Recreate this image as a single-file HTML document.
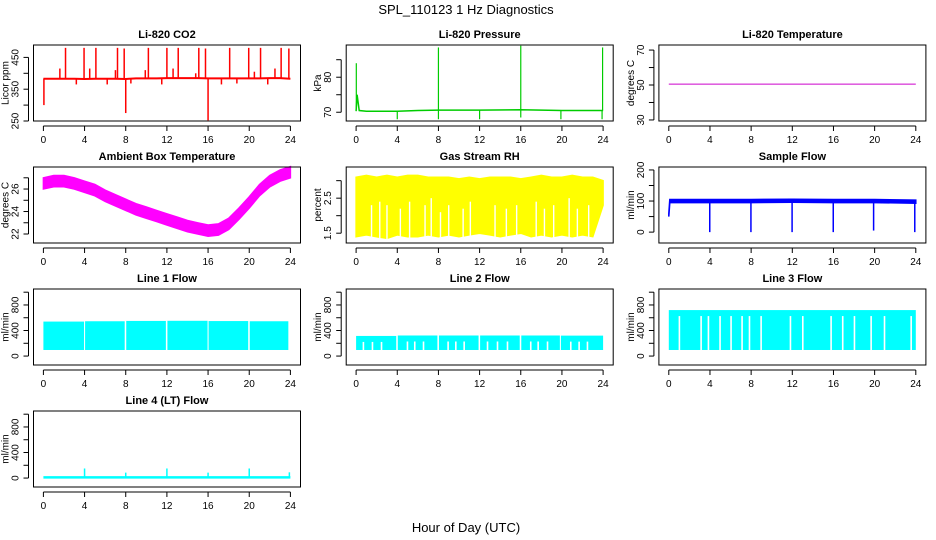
<!DOCTYPE html>
<html><head><meta charset="utf-8"><style>
html,body{margin:0;padding:0;background:#fff;}
svg{display:block;font-family:"Liberation Sans",Arial,sans-serif;}
</style></head><body>
<svg id="chart" width="936" height="540" viewBox="0 0 936 540" xmlns="http://www.w3.org/2000/svg">
<rect x="0" y="0" width="936" height="540" fill="#fff"/>
<text x="466" y="14" text-anchor="middle" font-size="13">SPL_110123  1 Hz Diagnostics</text>
<text x="466" y="532" text-anchor="middle" font-size="13">Hour of Day (UTC)</text>
</svg>
<script>
// ---------- data ----------
const xTicks = [0,4,8,12,16,20,24];
// CO2
const co2Hours = [0,0.05,1,2,3,4,5,6,7,8,9,10,11,12,13,14,15,16,17,18,19,20,21,22,23,24];
const co2Base  = [383,383,383,383,383,382,383,383,383,382,384,384,384,385,385,385,385,384,384,384,384,384,384,385,385,383];
const co2SpikeHours = [2.15,3.95,5.1,7.2,7.85,10.2,12.0,13.1,15.1,15.75,18.1,19.95,21.1,23.1,23.85,1.6,4.5,7.0,9.9,12.6,14.8,20.5,22.5,0.05,8.0,16.0,3.2,6.2,8.5,11.5,17.3,18.8,21.8];
const co2SpikeValues= [480,480,480,480,478,480,480,480,480,478,480,480,480,480,478,415,415,410,410,415,400,405,415,300,275,252,365,365,368,365,365,368,365];
// Pressure
const presHours = [0,0.1,0.3,1,4,6,8,12,16,20,24];
const presBase  = [70.3,75,70.5,70.3,70.3,70.5,70.6,70.6,70.7,70.5,70.5];
const presSpikeHours = [0.02,8.0,16.0,23.95,4.0,8.0,12.0,16.0,19.9,23.9];
const presSpikeValues= [84,88.5,89,88.5,68,68,68,68.5,68,68];
// Li-820 temperature
const tempHours = [0,24];
const tempValues = [50.5,50.5];
// Ambient box temperature (center of band)
const ambHours = [0,1,2,3,4,5,6,7,8,9,10,11,12,13,14,15,16,17,18,19,20,21,22,23,24];
const ambValues = [26.5,26.7,26.7,26.5,26.2,25.9,25.4,25.0,24.6,24.2,23.9,23.6,23.3,23.0,22.7,22.5,22.3,22.4,22.9,23.8,24.8,25.9,26.7,27.2,27.5];
const ambSpread = 0.5;
// Gas stream RH envelope
const rhHours = [0,1,2,3,4,5,6,7,8,9,10,11,12,13,14,15,16,17,18,19,20,21,22,23,24];
const rhHigh = [3.1,3.15,3.1,3.15,3.1,3.15,3.15,3.1,3.1,3.1,3.05,3.1,3.05,3.1,3.1,3.1,3.05,3.1,3.15,3.1,3.1,3.15,3.1,3.1,3.0];
const rhLow  = [1.4,1.45,1.4,1.35,1.45,1.4,1.4,1.45,1.4,1.45,1.4,1.45,1.5,1.45,1.4,1.45,1.5,1.4,1.45,1.4,1.45,1.4,1.45,1.4,2.3];
const rhGapHours = [1.5,2.3,3.0,4.3,5.2,6.7,7.3,8.2,9.0,10.4,11.1,13.5,14.6,15.6,17.5,18.3,19.2,20.7,21.5,22.6];
const rhGapTops  = [2.3,2.4,2.3,2.2,2.4,2.3,2.5,2.1,2.3,2.2,2.4,2.3,2.2,2.3,2.4,2.2,2.3,2.5,2.2,2.3];
// Sample flow
const sfHours = [0,0.1,1,4,8,12,16,20,24];
const sfValues = [55,100,100,100,100,101,100,100,98];
const sfSpread = 5;
const sfDropHours = [3.98,7.98,11.98,15.98,19.9,23.9];
const sfDropValues = [0,0,0,0,5,0];
// Line flows
const l1Block = [[0,3.95,540],[4.05,7.9,545],[8.05,11.9,550],[12.05,15.95,552],[16.05,19.9,548],[20.05,23.8,545]];
const l1Low = 95;
const l1Gaps = [];
const l2Block = [[0,3.9,315],[4.05,7.9,322],[8.05,11.9,322],[12.05,15.9,322],[16.05,19.8,322],[19.9,24,320]];
const l2Low = 95;
const l2Gaps = [0.71,1.59,2.47,4.99,5.7,6.55,8.94,9.69,10.5,12.77,13.74,14.71,16.97,17.69,18.6,20.86,21.67,22.48];
const l3Block = [[0,24,720]];
const l3Low = 95;
const l3Gaps = [1.03,3.14,3.85,4.98,6.05,7.12,7.84,8.97,11.82,13.02,15.77,16.9,18.04,19.66,20.96,23.55];
const l4Hours = [0,24];
const l4Values = [10,10];
const l4SpikeHours = [4,8,12,16,20,23.9];
const l4SpikeValues = [150,85,150,85,150,90];
// ---------- layout ----------
const NS = "http://www.w3.org/2000/svg";
const svg = document.getElementById('chart');
function el(tag, attrs, parent){
  const e = document.createElementNS(NS, tag);
  for (const k in attrs) e.setAttribute(k, attrs[k]);
  (parent||svg).appendChild(e);
  return e;
}
function panel(col,row,opt){
  const L = 33.5 + 312.7*col, T = 45 + 122*row, W = 267, H = 76;
  const x0 = L + 9.9, k = 247/24;
  const xs = h => x0 + h*k;
  const ys = v => T+H - (v-opt.ymin)/(opt.ymax-opt.ymin)*H;
  const g = el('g',{});
  
  
  const t = el('text',{x:L+W/2,y:T-7,'text-anchor':'middle','font-size':11,'font-weight':'bold'},g);
  t.textContent = opt.title;
  
  
  const plot = el('g',{},g);
  
  
  opt.draw(plot, xs, ys);
  const box = el('rect',{x:L,y:T,width:W,height:H,fill:'none',stroke:'#000','stroke-width':1},g);
  
  
  const xa = el('g',{},g);
  
  
  el('line',{x1:xs(0),x2:xs(24),y1:T+H+5,y2:T+H+5,stroke:'#000'},xa);
  xTicks.forEach(v=>{
    el('line',{x1:xs(v),x2:xs(v),y1:T+H+5,y2:T+H+10,stroke:'#000'},xa);
    const tl = el('text',{x:xs(v),y:T+H+22,'text-anchor':'middle','font-size':10},xa);
    tl.textContent = v;
    
    
  });
  const ya = el('g',{},g);
  
  
  const yt = opt.yTicks;
  el('line',{x1:L-5,x2:L-5,y1:ys(yt[0]),y2:ys(yt[yt.length-1]),stroke:'#000'},ya);
  yt.forEach((v,i)=>{
    el('line',{x1:L-10,x2:L-5,y1:ys(v),y2:ys(v),stroke:'#000'},ya);
    if (opt.yLabels[i] !== '') {
      const tl = el('text',{x:0,y:0,'text-anchor':'middle','font-size':10,transform:`translate(${L-15},${ys(v)}) rotate(-90)`},ya);
      tl.textContent = opt.yLabels[i];
      
      
    }
  });
  const yl = el('text',{x:0,y:0,'text-anchor':'middle','font-size':10,transform:`translate(${L-25},${T+H/2}) rotate(-90)`},g);
  yl.textContent = opt.ylab;
  
  
}
function pline(p, xsArr, ysArr, xs, ys, color, w){
  const pts = xsArr.map((h,i)=>xs(h).toFixed(1)+','+ys(ysArr[i]).toFixed(1)).join(' ');
  const e = el('polyline',{points:pts,fill:'none',stroke:color,'stroke-width':w},p);
  
  
}
function spikes(p, hs, vs, baseFn, xs, ys, color, w){
  hs.forEach((h,i)=>{
    const e = el('line',{x1:xs(h),x2:xs(h),y1:ys(baseFn(h)),y2:ys(vs[i]),stroke:color,'stroke-width':w},p);
    
    
  });
}
function interp(hs, vs){
  return h=>{ for(let i=1;i<hs.length;i++){ if(h<=hs[i]){const t=(h-hs[i-1])/(hs[i]-hs[i-1]||1);return vs[i-1]+t*(vs[i]-vs[i-1]);} } return vs[vs.length-1]; };
}
function band(p, hs, hi, lo, xs, ys, color){
  const pts = hs.map((h,i)=>xs(h).toFixed(1)+','+ys(hi[i]).toFixed(1)).concat(hs.slice().reverse().map((h,j)=>{const i=hs.length-1-j;return xs(h).toFixed(1)+','+ys(lo[i]).toFixed(1);})).join(' ');
  const e = el('polygon',{points:pts,fill:color,stroke:color,'stroke-width':1.5},p);
  
  
}
function flowPanel(blocks, low, gaps, color){
  return (p,xs,ys)=>{
    blocks.forEach(b=>{
      const r = el('rect',{x:xs(b[0]),y:ys(b[2]),width:xs(b[1])-xs(b[0]),height:ys(low)-ys(b[2]),fill:color},p);
      
      
    });
    gaps.forEach(h=>{
      const b = blocks.find(b=>h>=b[0]&&h<=b[1]) || blocks[0];
      const r = el('rect',{x:xs(h)-0.8,y:ys(b[2])+6,width:1.6,height:ys(low)-ys(b[2])-6,fill:'#fff'},p);
      
      
    });
  };
}
const flowTicks=[0,200,400,600,800,1000], flowLabels=['0','','400','','800',''];
panel(0,0,{name:'co2',title:'Li-820 CO2',ylab:'Licor ppm',ymin:250,ymax:489,yTicks:[250,300,350,400,450],yLabels:['250','','350','','450'],
  draw:(p,xs,ys)=>{const bf=interp(co2Hours,co2Base);spikes(p,co2SpikeHours,co2SpikeValues,bf,xs,ys,'#f00',1.5);pline(p,co2Hours,co2Base,xs,ys,'#f00',2);}});
panel(1,0,{name:'pressure',title:'Li-820 Pressure',ylab:'kPa',ymin:67.5,ymax:89.2,yTicks:[70,75,80,85],yLabels:['70','','80',''],
  draw:(p,xs,ys)=>{const bf=interp(presHours,presBase);spikes(p,presSpikeHours,presSpikeValues,bf,xs,ys,'#0c0',1.2);pline(p,presHours,presBase,xs,ys,'#0c0',1.5);}});
panel(2,0,{name:'li820-temperature',title:'Li-820 Temperature',ylab:'degrees C',ymin:29.4,ymax:72.9,yTicks:[30,40,50,60,70],yLabels:['30','','50','','70'],
  draw:(p,xs,ys)=>{pline(p,tempHours,tempValues,xs,ys,'#c0c',1);}});
panel(0,1,{name:'ambient-temperature',title:'Ambient Box Temperature',ylab:'degrees C',ymin:21.2,ymax:27.96,yTicks:[22,23,24,25,26,27],yLabels:['22','','24','','26',''],
  draw:(p,xs,ys)=>{band(p,ambHours,ambValues.map(v=>v+ambSpread),ambValues.map(v=>v-ambSpread),xs,ys,'#f0f');}});
panel(1,1,{name:'gas-stream-rh',title:'Gas Stream RH',ylab:'percent',ymin:1.22,ymax:3.39,yTicks:[1.5,2,2.5,3],yLabels:['1.5','','2.5',''],
  draw:(p,xs,ys)=>{band(p,rhHours,rhHigh,rhLow,xs,ys,'#ff0');
    rhGapHours.forEach((h,i)=>{const r=el('rect',{x:xs(h)-0.7,y:ys(rhGapTops[i]),width:1.4,height:ys(1.3)-ys(rhGapTops[i]),fill:'#fff'},p);
      
      });}});
panel(2,1,{name:'sample-flow',title:'Sample Flow',ylab:'ml/min',ymin:-35,ymax:209.5,yTicks:[0,50,100,150,200],yLabels:['0','','100','','200'],
  draw:(p,xs,ys)=>{band(p,sfHours,sfValues.map(v=>v+sfSpread),sfValues.map(v=>v-sfSpread),xs,ys,'#00f');
    spikes(p,sfDropHours,sfDropValues,interp(sfHours,sfValues),xs,ys,'#00f',1.5);}});
panel(0,2,{name:'line-1-flow',title:'Line 1 Flow',ylab:'ml/min',ymin:-140,ymax:1050,yTicks:flowTicks,yLabels:flowLabels,draw:flowPanel(l1Block,l1Low,l1Gaps,'#0ff')});
panel(1,2,{name:'line-2-flow',title:'Line 2 Flow',ylab:'ml/min',ymin:-140,ymax:1050,yTicks:flowTicks,yLabels:flowLabels,draw:flowPanel(l2Block,l2Low,l2Gaps,'#0ff')});
panel(2,2,{name:'line-3-flow',title:'Line 3 Flow',ylab:'ml/min',ymin:-140,ymax:1050,yTicks:flowTicks,yLabels:flowLabels,draw:flowPanel(l3Block,l3Low,l3Gaps,'#0ff')});
panel(0,3,{name:'line-4-flow',title:'Line 4 (LT) Flow',ylab:'ml/min',ymin:-140,ymax:1050,yTicks:flowTicks,yLabels:flowLabels,
  draw:(p,xs,ys)=>{spikes(p,l4SpikeHours,l4SpikeValues,interp(l4Hours,l4Values),xs,ys,'#0ff',1.5);pline(p,l4Hours,l4Values,xs,ys,'#0ff',2.5);}});
</script>
</body></html>
